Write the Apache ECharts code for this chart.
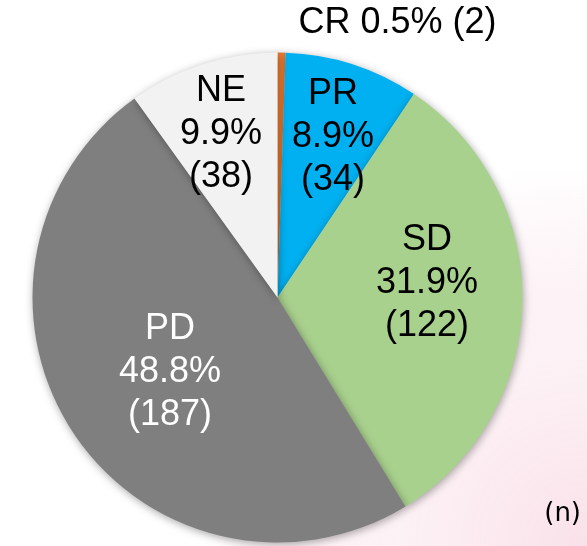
<!DOCTYPE html>
<html>
<head>
<meta charset="utf-8">
<script src="https://cdn.jsdelivr.net/npm/echarts@6/dist/echarts.min.js"></script>
<style>html,body{margin:0;padding:0;background:#fff}#c{width:587px;height:546px}</style>
</head>
<body>
<div id="c"></div>
<script>
const categories = ['CR', 'PR', 'SD', 'PD', 'NE'];
const counts = [2, 34, 122, 187, 38];
const colors = ['#ED7D31', '#00B0F0', '#A9D18E', '#7F7F7F', '#F2F2F2'];
const labelColors = ['#000', '#000', '#000', '#fff', '#000'];
const labelOffsets = [[118, -149], [17, -41], [24, -17], [-3, 5], [-18, -44]];
const unitLabel = '(n)';

const chart = echarts.init(document.getElementById('c'), null, {renderer: 'canvas'});
const data = categories.map((name, i) => ({
  name: name,
  value: counts[i],
  itemStyle: {color: colors[i]},
  label: {
    color: labelColors[i],
    offset: labelOffsets[i],
    formatter: i === 0 ? '{b} {d}% ({c})' : '{b}\n{d}%\n({c})'
  }
}));
chart.setOption({
  animation: false,
  backgroundColor: {
    type: 'radial', x: 1, y: 1, r: 0.7,
    colorStops: [
      {offset: 0, color: 'rgba(246,205,218,0.6)'},
      {offset: 0.5, color: 'rgba(250,228,235,0.5)'},
      {offset: 1, color: 'rgba(255,255,255,1)'}
    ]
  },
  title: {
    text: unitLabel, right: 1, bottom: 14,
    textStyle: {fontFamily: 'DejaVu Sans', fontSize: 26, fontWeight: 'normal', color: '#000'}
  },
  series: [{
    type: 'pie',
    center: [277.5, 297.5],
    radius: [0, 245],
    startAngle: 90,
    clockwise: true,
    percentPrecision: 1,
    data: data,
    itemStyle: {
      shadowBlur: 8, shadowColor: 'rgba(0,0,0,0.35)', shadowOffsetX: 1, shadowOffsetY: 2
    },
    label: {
      show: true,
      position: 'inside',
      fontFamily: 'Liberation Sans',
      fontSize: 36,
      lineHeight: 43,
      align: 'center'
    },
    labelLine: {show: false},
    emphasis: {disabled: true}
  }]
});
</script>
</body>
</html>
